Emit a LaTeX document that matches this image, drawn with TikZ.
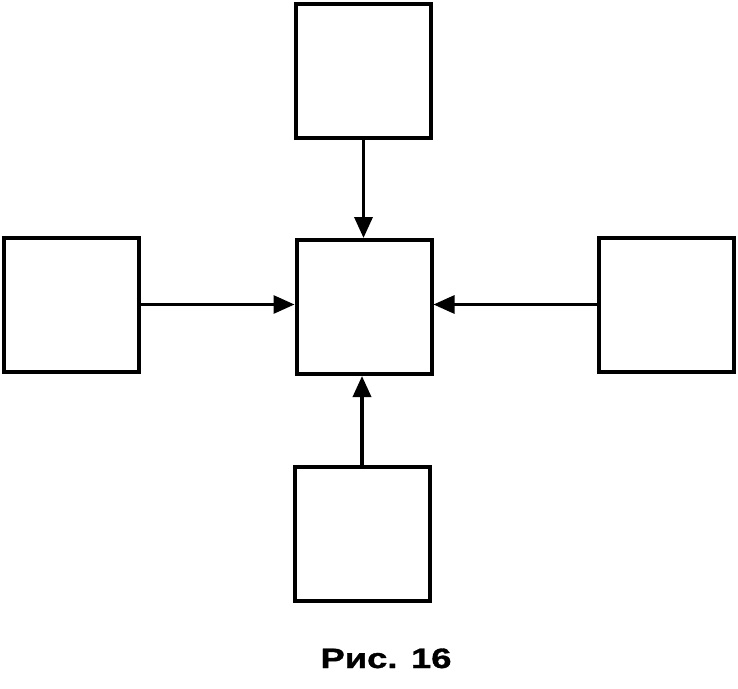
\documentclass[tikz,border=0pt]{standalone}
\usepackage{fontspec}
\newfontfamily\captionfont[FakeStretch=1.3,FakeBold=1.2]{Liberation Sans}
\usetikzlibrary{arrows.meta}

\begin{document}
\begin{tikzpicture}[x=1pt,y=-1pt]
    \useasboundingbox (0,0) rectangle (738,688);
    \tikzset{BoxStyle/.style={draw, line width=4pt, minimum width=135pt, minimum height=134pt, inner sep=0pt}}
    \tikzset{EdgeStyle/.style={-{Triangle[length=21pt,width=18pt]}, line width=3pt}}

    \node[BoxStyle] (T) at (363.5,71) {};
    \node[BoxStyle] (L) at (71,304.5) {};
    \node[BoxStyle] (C) at (364,307) {};
    \node[BoxStyle] (R) at (666,304.5) {};
    \node[BoxStyle] (B) at (362,534) {};

    \draw[EdgeStyle, line width=3.5pt] (T) -- (T |- C.north);
    \draw[EdgeStyle] (L) -- (L -| C.west);
    \draw[EdgeStyle] (R) -- (R -| C.east);
    \draw[EdgeStyle, line width=3.5pt] (B) -- (B |- C.south);

    \node[anchor=base, inner sep=0pt, font=\captionfont\bfseries\fontsize{28}{32}\selectfont] (cap) at (386,668) {Рис. 16};
\end{tikzpicture}
\end{document}
